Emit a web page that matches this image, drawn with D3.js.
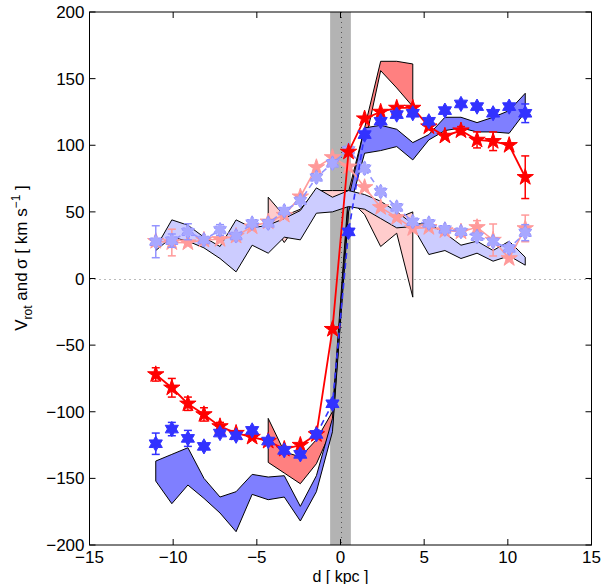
<!DOCTYPE html>
<html><head><meta charset="utf-8">
<script src="https://cdn.jsdelivr.net/npm/d3@7"></script>
<style>body{margin:0;background:#fff} text{font-family:"Liberation Sans",Arial,Helvetica,sans-serif}</style>
</head><body><svg id="c" width="604" height="584"></svg>
<script>
// ---- data ----
const dist = [-11.04,-10.08,-9.12,-8.16,-7.20,-6.24,-5.28,-4.32,-3.36,-2.40,-1.44,-0.48,0.48,1.44,2.40,3.36,4.32,5.28,6.24,7.20,8.16,9.12,10.08,11.04];
const vRed    = [-72,-82,-94,-102,-111,-116,-119,-122,-128,-125,-117,-38,95,120,125,128,128,114,107,111,104,103,100,76];
const vRedErr = [5,7,5,5,3,0,0,0,0,0,0,0,0,0,0,0,0,0,0,3,6,7,0,16];
const vBlue    = [-124,-113,-120,-126,-116,-118,-114,-122,-129,-132,-117,-94,35,108,118,123,124,118,126,131,129,124,129,124];
const vBlueErr = [8,5,6,0,0,0,0,0,0,0,0,0,0,0,0,0,0,0,0,0,0,0,0,7];
const sBlue    = [27.6,28.4,35.1,28.9,36.4,31.9,41.4,41.4,50.6,58.4,75.9,86.4,96.4,82.6,65.1,53.4,42.6,41.4,36.9,35.1,31.4,27.6,22.6,34.4];
const sBlueErr = [12,5,6,0,4,0,0,0,0,0,0,0,0,0,0,0,0,0,0,0,0,0,0,6];
const sRed     = [28,27,26.9,28.9,29.4,31.9,38.9,42.6,47.6,61.4,83.4,90.9,83.9,68.4,53.4,45.9,37.6,38.4,36,35.1,38.4,28.9,15.1,37.6];
const sRedErr  = [0,10,0,0,0,0,0,0,0,0,0,0,0,0,0,0,0,0,0,0,5,12,0,10];
// model bands
const bandVBlueLo = [-152,-169,-155,-165,-176,-190,-162,-166,-164,-182,-160,-115,50,94,96,99,89,104,111,113,110,110,109,125];
const bandVBlueHi = [-137,-132,-127,-150,-164,-160,-147,-149,-148,-171,-148,-105,60,113,115,112,102,108,121,121,117,121,126,139];
const bandVRedIdx = [7,8,9,10,11,12,13,14,15,16];
const bandVRedLo  = [-138,-146,-154,-139,-112,52,100,156,143,129];
const bandVRedHi  = [-105,-130,-134,-121,-100,65,113,163,163,161];
const bandSBlueHi = [23,44,40,31,24,44,38,40,45,51,68,61,66,63,58,50,41,41,34,25,28,21,28,16];
const bandSBlueLo = [21,31,28,23,15,5,25,19,31,29,49,50,54,52,45,38,39,18,21,15,19,13,17,10];
const bandSRedIdx = [7,8,9,10,11,12,13,14,15,16];
const bandSRedHi  = [61,47,52,66,66,66,58,51,45,50];
const bandSRedLo  = [45,27,44,58,58,60,48,24,34,-14];
const xTicks = [-15,-10,-5,0,5,10,15];
const yTicks = [-200,-150,-100,-50,0,50,100,150,200];
const centralBand = [-0.62,0.62];

// ---- layout ----
const L=89.5, R=591.5, T=12, B=545;
const svg = d3.select('#c');
const x = d3.scaleLinear().domain([-15,15]).range([L,R]);
const y = d3.scaleLinear().domain([-200,200]).range([B,T]);

// central gray band
svg.append('rect').attr('x',x(centralBand[0])).attr('y',T)
  .attr('width',x(centralBand[1])-x(centralBand[0])).attr('height',B-T).attr('fill','#b3b3b3');
// zero lines
svg.append('line').attr('x1',L).attr('x2',R).attr('y1',Math.round(y(0))+0.5).attr('y2',Math.round(y(0))+0.5)
  .attr('stroke','#777').attr('stroke-width',1).attr('stroke-dasharray','1,4');
svg.append('line').attr('x1',Math.round(x(0))+0.5).attr('x2',Math.round(x(0))+0.5).attr('y1',T).attr('y2',B)
  .attr('stroke','#555').attr('stroke-width',1).attr('stroke-dasharray','1,4');

function band(idx, lo, hi, fill){
  const pts=[];
  idx.forEach((k,i)=>pts.push([x(dist[k]),y(hi[i])]));
  for(let i=idx.length-1;i>=0;i--) pts.push([x(dist[idx[i]]),y(lo[i])]);
  svg.append('path').attr('d','M'+pts.map(p=>p.join(',')).join('L')+'Z')
    .attr('fill',fill).attr('stroke','#000').attr('stroke-width',1).attr('stroke-linejoin','miter');
}
const allIdx = dist.map((_,i)=>i);
band(bandVRedIdx, bandVRedLo, bandVRedHi, '#ff8080');
band(allIdx, bandVBlueLo, bandVBlueHi, '#7f7fff');
band(bandSRedIdx, bandSRedLo, bandSRedHi, '#ffcccc');
band(allIdx, bandSBlueLo, bandSBlueHi, '#ccccff');

function starPath(n, Ro, Ri){
  let p='';
  for(let i=0;i<2*n;i++){
    const a=-Math.PI/2+i*Math.PI/n, r=i%2?Ri:Ro;
    p+=(i?'L':'M')+(r*Math.cos(a)).toFixed(2)+','+(r*Math.sin(a)).toFixed(2);
  }
  return p+'Z';
}
const penta = starPath(5,8.6,8.6*0.382);
const hexa  = starPath(6,7.6,7.6*0.577);

function series(vals, errs, color, shape, opts){
  const g=svg.append('g');
  const idx = opts.lineIdx || allIdx;
  const line=d3.line().x(i=>x(dist[i])).y(i=>y(vals[i]));
  g.append('path').attr('d',line(idx)).attr('fill','none').attr('stroke',color)
    .attr('stroke-width',opts.lw||1.6).attr('stroke-dasharray',opts.dash||null);
  // error bars
  dist.forEach((d,i)=>{
    if(!errs[i]) return;
    const cx=x(d), y1=y(vals[i]-errs[i]), y2=y(vals[i]+errs[i]);
    g.append('line').attr('x1',cx).attr('x2',cx).attr('y1',y1).attr('y2',y2).attr('stroke',color).attr('stroke-width',1.5);
    [y1,y2].forEach(yy=>g.append('line').attr('x1',cx-4).attr('x2',cx+4).attr('y1',yy).attr('y2',yy).attr('stroke',color).attr('stroke-width',1.5));
  });
  g.selectAll('path.m').data(dist).enter().append('path').attr('class','m')
    .attr('d',shape).attr('transform',(d,i)=>`translate(${x(d)},${y(vals[i])})`)
    .attr('fill',opts.fill||color).attr('stroke',color).attr('stroke-width',1)
    .attr('stroke-dasharray',opts.mdash||null);
}
series(sRed, sRedErr, '#ff9a9a', penta, {lw:1.6});
series(sBlue, sBlueErr, '#9494ff', hexa, {lw:1.6, dash:'6,4', fill:'#a8a8ff', mdash:'3,1.5'});
series(vRed, vRedErr, '#ff0000', penta, {lw:1.8});
series(vBlue, vBlueErr, '#3232ff', hexa, {lw:1.6, dash:'6,4', lineIdx:[10,11,12,13]});

// axes box and ticks
svg.append('rect').attr('x',L).attr('y',T).attr('width',R-L).attr('height',B-T)
  .attr('fill','none').attr('stroke','#000').attr('stroke-width',1);
const tl=6;
xTicks.forEach(t=>{
  svg.append('line').attr('x1',x(t)).attr('x2',x(t)).attr('y1',B).attr('y2',B-tl).attr('stroke','#000');
  svg.append('line').attr('x1',x(t)).attr('x2',x(t)).attr('y1',T).attr('y2',T+tl).attr('stroke','#000');
  svg.append('text').attr('x',x(t)).attr('y',B+18).attr('text-anchor','middle').attr('font-size',17)
    .text(t<0?'\u2212'+Math.abs(t):String(t));
});
yTicks.forEach(t=>{
  svg.append('line').attr('x1',L).attr('x2',L+tl).attr('y1',y(t)).attr('y2',y(t)).attr('stroke','#000');
  svg.append('line').attr('x1',R).attr('x2',R-tl).attr('y1',y(t)).attr('y2',y(t)).attr('stroke','#000');
  svg.append('text').attr('x',L-5).attr('y',y(t)+6).attr('text-anchor','end').attr('font-size',17)
    .text(t<0?'\u2212'+Math.abs(t):String(t));
});
// labels
svg.append('text').attr('x',x(0)).attr('y',582).attr('text-anchor','middle').attr('font-size',16).text('d [ kpc ]');
const yl=svg.append('text').attr('transform','translate(27,258) rotate(-90)').attr('text-anchor','middle').attr('font-size',17);
yl.append('tspan').text('V');
yl.append('tspan').attr('font-size',12).attr('dy',5).text('rot');
yl.append('tspan').attr('dy',-5).text(' and\u2009\u03c3  [ km s');
yl.append('tspan').attr('font-size',12).attr('dy',-7).text('\u22121');
yl.append('tspan').attr('dy',7).text(' ]');
</script></body></html>
